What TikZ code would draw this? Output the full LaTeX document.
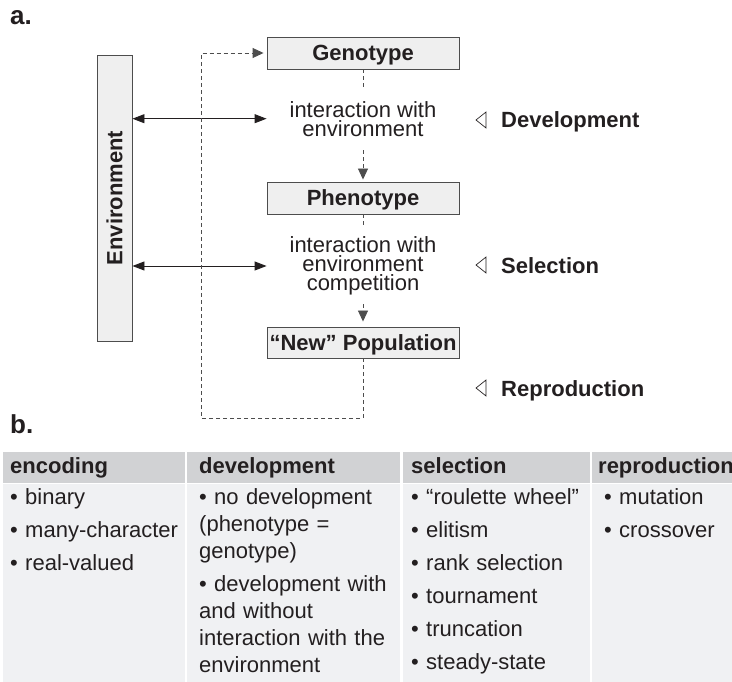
\documentclass[tikz,border=0pt]{standalone}
\usepackage{fontspec}
\setmainfont{Liberation Sans}
\usepackage{graphicx}
\usetikzlibrary{arrows.meta,positioning}
\definecolor{ink}{HTML}{231F20}
\definecolor{boxfill}{HTML}{EFEFEF}
\definecolor{boxline}{HTML}{4D4D4D}
\definecolor{headfill}{HTML}{D1D2D4}
\definecolor{cellfill}{HTML}{F0F1F3}
\begin{document}
\begin{tikzpicture}[
  x=1pt, y=-1pt,
  font=\fontsize{22}{19}\selectfont, text=ink,
  box/.style={draw=boxline, line width=0.9pt, fill=boxfill, inner sep=0pt, minimum width=192pt, minimum height=32pt, text height=16pt, text depth=0pt, font=\fontsize{22}{26}\selectfont\bfseries},
  envbox/.style={draw=boxline, line width=0.9pt, fill=boxfill, inner sep=0pt, minimum width=35pt, minimum height=286pt, font=\fontsize{22}{26}\selectfont\bfseries},
  note/.style={align=center, inner sep=0pt},
  stage/.style={anchor=base west, inner sep=0pt, font=\fontsize{22}{26}\selectfont\bfseries},
  panel/.style={anchor=base west, inner sep=0pt, font=\fontsize{26}{30}\selectfont\bfseries},
  marker/.style={draw=ink, line width=0.7pt, line join=miter},
  arrow/.style={draw=ink, line width=0.9pt, {Triangle[length=12pt,width=9pt]}-{Triangle[length=12pt,width=9pt]}},
  dashline/.style={draw=boxline, line width=0.9pt, dash pattern=on 4pt off 3pt},
  flow/.style={dashline, -{Triangle[length=11pt,width=10pt]}},
  head/.style={fill=headfill, anchor=north west, minimum height=31pt, inner ysep=0pt, text height=16pt, text depth=5pt, align=left, font=\fontsize{22}{26}\selectfont\bfseries},
  cell/.style={fill=cellfill, anchor=north west, minimum height=199pt, inner sep=0pt},
  items/.style={anchor=base west, align=left, inner sep=0pt, font=\fontsize{22}{27}\selectfont}
]
\useasboundingbox (0,0) rectangle (732,682);
\clip (0,0) rectangle (732,682);

\node[panel] (lblA) at (10,25) {a.};
\node[panel] (lblB) at (10,433) {b.};

\node[box] (geno) at (363,53) {Genotype};
\node[box] (pheno) at (363,198) {Phenotype};
\node[box, minimum height=31pt] (newpop) at (363,342.5) {“New” Population};
\node[envbox] (env) at (114.5,198) {\rotatebox{90}{Environment}};
\node[note] (int1) at (363,118.7) {interaction with\\environment};
\node[note] (int2) at (363,266) {interaction with\\environment\\competition};

\draw[arrow] (env.east |- int1) -- (geno.west |- int1);
\draw[arrow] (env.east |- int2) -- (geno.west |- int2);
\draw[dashline, shorten >=13pt] (geno) -- (int1);
\draw[flow, shorten <=14pt, shorten >=2pt] (int1) -- (pheno);
\draw[dashline, shorten >=9pt] (pheno) -- (int2);
\draw[flow, shorten <=9pt, shorten >=5pt] (int2) -- (newpop);
\draw[flow, shorten >=3pt] (newpop.south) -- ++(0,60) -| ([xshift=-65pt]geno.west) -- (geno.west);

\node[stage] (sDev) at (501,128) {Development};
\node[stage] (sSel) at (501,273) {Selection};
\node[stage] (sRep) at (501,396) {Reproduction};
\draw[marker] ([shift={(-25,-8)}]sDev.base west) -- ++(10,-8) -- ++(0,16) -- cycle;
\draw[marker] ([shift={(-25,-8)}]sSel.base west) -- ++(10,-8) -- ++(0,16) -- cycle;
\draw[marker] ([shift={(-25,-8)}]sRep.base west) -- ++(10,-8) -- ++(0,16) -- cycle;

\node[head, minimum width=182pt, text width=168pt, inner xsep=7pt] (hEnc) at (3,452) {encoding};
\node[head, minimum width=213pt, text width=189pt, inner xsep=12pt] (hDev) at (187,452) {development};
\node[head, minimum width=187pt, text width=171pt, inner xsep=8pt] (hSel) at (403,452) {selection};
\node[head, minimum width=160pt, text width=148pt, inner xsep=6pt] (hRep) at (592,452) {reproduction};

\node[cell, minimum width=182pt] (cEnc) at (hEnc.south west) {};
\node[cell, minimum width=213pt] (cDev) at (hDev.south west) {};
\node[cell, minimum width=187pt] (cSel) at (hSel.south west) {};
\node[cell, minimum width=160pt] (cRep) at (hRep.south west) {};

\node[items, text width=170pt] (lEnc) at (10,504) {• binary\\[6pt]• many-character\\[6pt]• real-valued};
\node[items, text width=198pt] (lDev) at (199,504) {• no development\\(phenotype =\\genotype)\\[6pt]• development with\\and without\\interaction with the\\environment};
\node[items, text width=178pt] (lSel) at (411,504) {• “roulette wheel”\\[6pt]• elitism\\[6pt]• rank selection\\[6pt]• tournament\\[6pt]• truncation\\[6pt]• steady-state};
\node[items, text width=130pt] (lRep) at (604,504) {• mutation\\[6pt]• crossover};
\end{tikzpicture}
\end{document}
